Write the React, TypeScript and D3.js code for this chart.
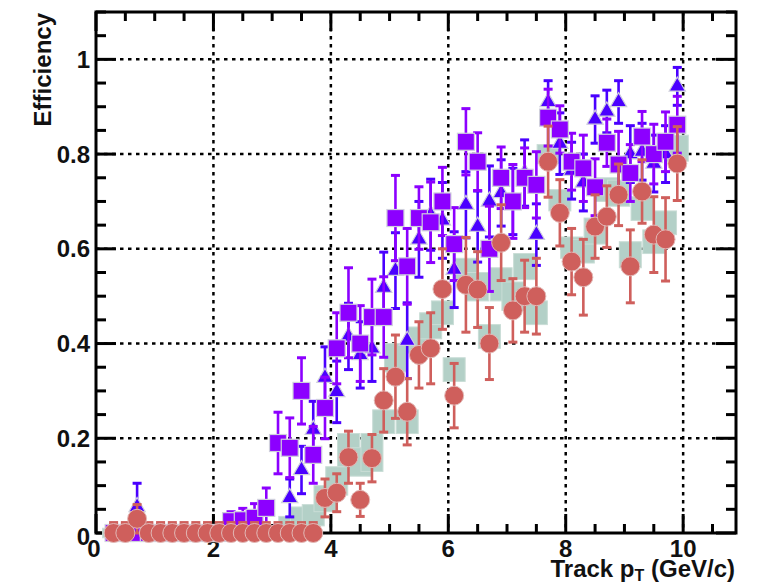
import React from "react";
import * as d3 from "d3";

// ---------- data ----------
const PT = [
  0.3, 0.5, 0.7, 0.9, 1.1, 1.3, 1.5, 1.7, 1.9,
  2.1, 2.3, 2.5, 2.7, 2.9, 3.1, 3.3, 3.5, 3.7, 3.9,
  4.1, 4.3, 4.5, 4.7, 4.9, 5.1, 5.3, 5.5, 5.7, 5.9,
  6.1, 6.3, 6.5, 6.7, 6.9, 7.1, 7.3, 7.5, 7.7, 7.9,
  8.1, 8.3, 8.5, 8.7, 8.9, 9.1, 9.3, 9.5, 9.7, 9.9,
];

const BLUE = [
  0, 0, 0.055, 0, 0, 0, 0, 0, 0,
  0, 0, 0, 0, 0, 0, 0.074, 0.133, 0.218, 0.328,
  0.298, 0.415, 0.376, 0.39, 0.518, 0.554, 0.406, 0.62, 0.672, 0.66,
  0.556, 0.693, 0.647, 0.7, 0.718, 0.7, 0.76, 0.63, 0.91, 0.822,
  0.765, 0.74, 0.873, 0.89, 0.91, 0.8, 0.805, 0.78, 0.8, 0.943,
];
const BLUE_ERR = [
  0.015, 0.015, 0.05, 0.015, 0.015, 0.015, 0.015, 0.015, 0.015,
  0.015, 0.015, 0.015, 0.015, 0.015, 0.015, 0.04, 0.05, 0.06, 0.065,
  0.065, 0.07, 0.07, 0.07, 0.075, 0.08, 0.08, 0.08, 0.075, 0.08,
  0.08, 0.07, 0.075, 0.075, 0.07, 0.07, 0.07, 0.065, 0.045, 0.065,
  0.06, 0.06, 0.05, 0.045, 0.045, 0.06, 0.06, 0.06, 0.06, 0.04,
];

const PURPLE = [
  0, 0, 0, 0, 0, 0, 0, 0, 0,
  0, 0.025, 0.027, 0.032, 0.053, 0.19, 0.18, 0.3, 0.165, 0.264,
  0.39, 0.465, 0.4, 0.456, 0.456, 0.665, 0.563, 0.665, 0.656, 0.7,
  0.61, 0.826, 0.784, 0.6, 0.75, 0.7, 0.75, 0.735, 0.877, 0.852,
  0.784, 0.77, 0.73, 0.824, 0.778, 0.76, 0.837, 0.8, 0.826, 0.862,
];
const PURPLE_ERR = [
  0.015, 0.015, 0.015, 0.015, 0.015, 0.015, 0.015, 0.015, 0.015,
  0.015, 0.02, 0.025, 0.03, 0.042, 0.065, 0.063, 0.07, 0.06, 0.065,
  0.075, 0.095, 0.08, 0.08, 0.085, 0.09, 0.08, 0.066, 0.085, 0.072,
  0.077, 0.07, 0.061, 0.09, 0.065, 0.078, 0.063, 0.07, 0.06, 0.05,
  0.06, 0.07, 0.06, 0.05, 0.07, 0.06, 0.053, 0.063, 0.063, 0.06,
];

const RED = [
  0, 0, 0.03, 0, 0, 0, 0, 0, 0,
  0, 0, 0, 0, 0, 0, 0, 0, 0, 0.074,
  0.085, 0.16, 0.07, 0.158, 0.28, 0.33, 0.256, 0.376, 0.39, 0.515,
  0.29, 0.524, 0.514, 0.4, 0.613, 0.47, 0.5, 0.5, 0.784, 0.676,
  0.573, 0.54, 0.647, 0.668, 0.714, 0.563, 0.721, 0.63, 0.62, 0.78,
];
const RED_ERR = [
  0.022, 0.022, 0.03, 0.022, 0.022, 0.022, 0.022, 0.022, 0.022,
  0.022, 0.022, 0.022, 0.022, 0.022, 0.022, 0.022, 0.022, 0.022, 0.04,
  0.04, 0.055, 0.035, 0.05, 0.067, 0.088, 0.07, 0.07, 0.075, 0.085,
  0.068, 0.1, 0.08, 0.076, 0.08, 0.067, 0.076, 0.08, 0.075, 0.07,
  0.07, 0.08, 0.067, 0.065, 0.065, 0.077, 0.067, 0.08, 0.088, 0.078,
];

// systematic boxes (low / high edge)
const SYS_LO = [
  -0.01, -0.01, -0.01, -0.01, -0.01, -0.01, -0.01, -0.01, -0.01,
  -0.01, -0.01, -0.01, -0.01, -0.01, -0.01, 0.005, 0.01, 0.015, 0.045,
  0.08, 0.14, 0.12, 0.13, 0.21, 0.34, 0.21, 0.38, 0.41, 0.44,
  0.32, 0.53, 0.49, 0.39, 0.49, 0.47, 0.535, 0.44, 0.78, 0.68,
  0.58, 0.57, 0.61, 0.7, 0.69, 0.56, 0.66, 0.59, 0.63, 0.785,
];
const SYS_HI = [
  0.01, 0.01, 0.01, 0.01, 0.01, 0.01, 0.01, 0.01, 0.01,
  0.01, 0.01, 0.01, 0.01, 0.01, 0.01, 0.035, 0.055, 0.06, 0.1,
  0.14, 0.21, 0.18, 0.21, 0.26, 0.4, 0.26, 0.435, 0.465, 0.49,
  0.37, 0.58, 0.55, 0.44, 0.56, 0.53, 0.59, 0.49, 0.82, 0.725,
  0.625, 0.62, 0.665, 0.75, 0.745, 0.615, 0.71, 0.64, 0.68, 0.84,
];

const X_TICKS = [0, 2, 4, 6, 8, 10];
const Y_TICKS = [0, 0.2, 0.4, 0.6, 0.8, 1];
const Y_TICK_LABELS = ["0", "0.2", "0.4", "0.6", "0.8", "1"];
const X_TICK_LABELS = ["0", "2", "4", "6", "8", "10"];

// ---------- styles ----------
const C_BLUE = "#4a00ff";
const C_PURPLE = "#8c00ff";
const C_RED = "#cf5f5c";
const C_SYS = "#b3d0c7";
const HALO = "#cfcfdc";
const FONT = "'Liberation Sans', Arial, Helvetica, sans-serif";

const W = 758;
const H = 584;
const L = 96, R = 736, T = 12, B = 533;

export default function App() {
  const x = d3.scaleLinear().domain([0, 10.9]).range([L, R]);
  const y = d3.scaleLinear().domain([0, 1.1]).range([B, T]);

  const xMinor = d3.range(0, 10.9, 0.5);
  const yMinor = d3.range(0, 1.1001, 0.05);
  const tri = d3.symbol().type(d3.symbolTriangle).size(115)();

  const errBar = (px: number, v: number, e: number, color: string, key: string) => {
    const y1 = Math.min(y(v - e), B), y2 = y(v + e);
    const cw = 4.5;
    return (
      <g key={key} stroke={color} strokeWidth={2.6} fill="none">
        <line x1={px} x2={px} y1={y1} y2={y2} />
        {v - e >= 0 && <line x1={px - cw} x2={px + cw} y1={y1} y2={y1} strokeWidth={3} />}
        <line x1={px - cw} x2={px + cw} y1={y2} y2={y2} strokeWidth={3} />
      </g>
    );
  };

  return (
    <svg
      width={W}
      height={H}
      style={{ position: "absolute", left: 0, top: 0, background: "#fff" }}
      fontFamily={FONT}
    >
      <rect x={0} y={0} width={W} height={H} fill="#fff" />

      {/* grid */}
      <g stroke="#000" strokeWidth={2.5} strokeDasharray="3.5,4.5">
        {X_TICKS.filter((t) => t > 0).map((t) => (
          <line key={"gx" + t} x1={x(t)} x2={x(t)} y1={T} y2={B} />
        ))}
        {Y_TICKS.filter((t) => t > 0).map((t) => (
          <line key={"gy" + t} x1={L} x2={R} y1={y(t)} y2={y(t)} />
        ))}
      </g>

      {/* frame */}
      <rect x={L} y={T} width={R - L} height={B - T} fill="none" stroke="#000" strokeWidth={3} />

      {/* ticks */}
      <g stroke="#000" strokeWidth={3}>
        {xMinor.map((t) => {
          const major = X_TICKS.includes(t);
          const len = major ? 19 : 9;
          return (
            <g key={"xt" + t}>
              <line x1={x(t)} x2={x(t)} y1={B} y2={B - len} />
              <line x1={x(t)} x2={x(t)} y1={T} y2={T + len} />
            </g>
          );
        })}
        {yMinor.map((t, k) => {
          const major = k % 4 === 0;
          const len = major ? 20 : 10;
          return (
            <g key={"yt" + k}>
              <line x1={L} x2={L + len} y1={y(t)} y2={y(t)} />
              <line x1={R} x2={R - len} y1={y(t)} y2={y(t)} />
            </g>
          );
        })}
      </g>

      {/* tick labels */}
      <g fontSize={24} fontWeight="bold" fill="#111">
        {Y_TICKS.map((t, i) => (
          <text key={"yl" + i} x={90} y={y(t) + (i === 0 ? 3 : 0)} dy="0.36em" textAnchor="end">
            {Y_TICK_LABELS[i]}
          </text>
        ))}
        {X_TICKS.map((t, i) => (
          <text key={"xl" + i} x={x(t) - (i === 0 ? 2 : 0)} y={557} textAnchor="middle">
            {X_TICK_LABELS[i]}
          </text>
        ))}
      </g>

      {/* systematic boxes */}
      {PT.map((p, i) => (
        <rect
          key={"s" + i}
          x={x(p) - 11}
          width={22}
          y={y(SYS_HI[i])}
          height={y(SYS_LO[i]) - y(SYS_HI[i])}
          fill={C_SYS}
          stroke="#c9ddd6"
          strokeWidth={1}
        />
      ))}

      {/* blue triangles */}
      {PT.map((p, i) => errBar(x(p), BLUE[i], BLUE_ERR[i], C_BLUE, "be" + i))}
      {PT.map((p, i) => (
        <path
          key={"bm" + i}
          d={tri}
          transform={`translate(${x(p)},${y(BLUE[i])})`}
          fill={C_BLUE}
          stroke={HALO}
          strokeWidth={1.2}
        />
      ))}

      {/* purple squares */}
      {PT.map((p, i) => errBar(x(p), PURPLE[i], PURPLE_ERR[i], C_PURPLE, "pe" + i))}
      {PT.map((p, i) => (
        <rect
          key={"pm" + i}
          x={x(p) - 8.5}
          y={y(PURPLE[i]) - 8.5}
          width={17}
          height={17}
          fill={C_PURPLE}
          stroke={HALO}
          strokeWidth={1.2}
        />
      ))}

      {/* red circles */}
      {PT.map((p, i) => errBar(x(p), RED[i], RED_ERR[i], C_RED, "re" + i))}
      {PT.map((p, i) => (
        <circle
          key={"rm" + i}
          cx={x(p)}
          cy={y(RED[i])}
          r={9.5}
          fill={C_RED}
          stroke="#e2b8b6"
          strokeWidth={1}
        />
      ))}

      {/* axis titles */}
      <text
        transform="translate(51,13) rotate(-90)"
        textAnchor="end"
        fontSize={24}
        fontWeight="bold"
        fill="#111"
      >
        Efficiency
      </text>
      <text x={735} y={577} textAnchor="end" fontSize={24} fontWeight="bold" fill="#111">
        Track p
        <tspan fontSize={16} dy={4}>T</tspan>
        <tspan dy={-4}> (GeV/c)</tspan>
      </text>
    </svg>
  );
}
